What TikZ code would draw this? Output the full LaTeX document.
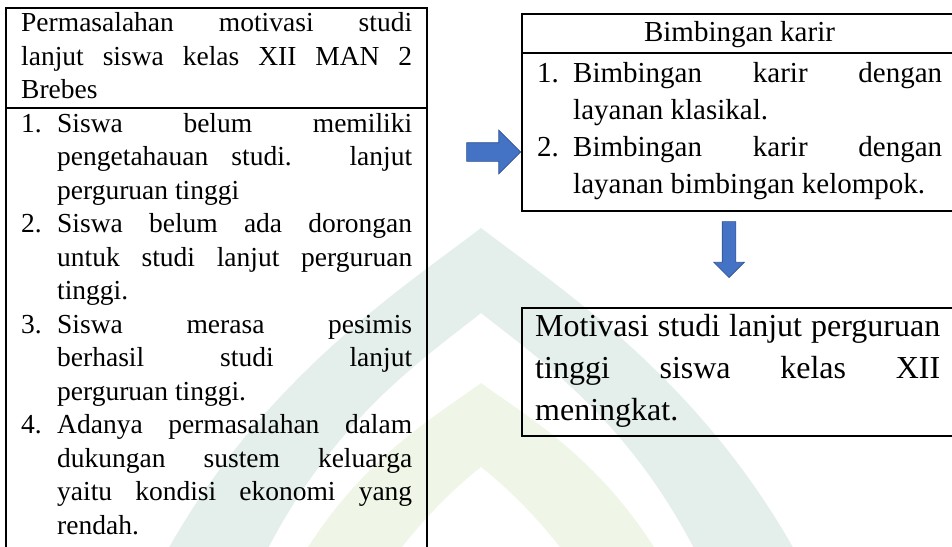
\documentclass[tikz,border=0pt]{standalone}
\usepackage{fontspec}
\setmainfont{Liberation Serif}
\usetikzlibrary{shapes.arrows}
\definecolor{wmteal}{RGB}{228,239,236}
\definecolor{wmgreen}{RGB}{239,246,231}
\definecolor{arrfill}{RGB}{68,114,196}
\definecolor{arredge}{RGB}{47,82,143}
\newlength\myind
\newcommand\myjl[1]{\makebox[\linewidth][s]{#1}}
\newcommand\myif[2]{\makebox[\myind][l]{#1}\makebox[\dimexpr\linewidth-\myind\relax][s]{#2}}
\newcommand\myij[1]{\hspace*{\myind}\makebox[\dimexpr\linewidth-\myind\relax][s]{#1}}
\newcommand\myil[1]{\hspace*{\myind}#1}
\newcommand\fontL{\fontsize{27.5}{33.5}\selectfont}
\newcommand\fontR{\fontsize{29}{37}\selectfont}
\newcommand\fontM{\fontsize{32}{42}\selectfont}
\begin{document}
\begin{tikzpicture}[x=1pt,y=-1pt,
  frame/.style={draw=black, line width=1.6pt, inner sep=0pt, anchor=north west},
  txt/.style={inner sep=0pt, anchor=base west},
  blockarrow/.style={single arrow, fill=arrfill, draw=arredge, line width=0.6pt,
     inner sep=0pt, single arrow tip angle=90, text width=0pt}]
\useasboundingbox (0,0) rectangle (952,546);
\clip (0,0) rectangle (952,546);
% watermark
\fill[wmteal] (162,560) .. controls (260,380) and (400,290) .. (481,228)
  .. controls (562,290) and (702,380) .. (800,560) -- (700,560)
  .. controls (630,420) and (540,360) .. (481,313)
  .. controls (422,360) and (332,420) .. (262,560) -- cycle;
\fill[wmgreen] (300,560) .. controls (360,460) and (430,420) .. (481,383)
  .. controls (532,420) and (602,460) .. (662,560) -- (570,560)
  .. controls (540,520) and (510,490) .. (481,467)
  .. controls (452,490) and (422,520) .. (392,560) -- cycle;
% frames
\node[frame, minimum width=421pt, minimum height=600pt] (prob) at (5,7) {};
\draw[line width=1.6pt] (prob.west |- 0,108) coordinate (s1) -- (prob.east |- 0,108) coordinate (s2);
\node[frame, minimum width=500pt, minimum height=197pt] (bk) at (521,13) {};
\draw[line width=1.6pt] (bk.west |- 0,53) coordinate (s3) -- (bk.east |- 0,53) coordinate (s4);
\node[frame, minimum width=500pt, minimum height=128pt] (mot) at (521,307) {};
% texts
\node[txt] (probhead) at (21,31.7) {\fontL\parbox[t]{391pt}{%
  \myjl{Permasalahan motivasi studi}\\
  \myjl{lanjut siswa kelas XII MAN 2}\\
  Brebes}};
\node[txt] (problist) at (21,132) {\fontL\setlength\myind{36pt}\parbox[t]{391pt}{%
  \myif{1.}{Siswa belum memiliki}\\
  \myij{pengetahauan studi. lanjut}\\
  \myil{perguruan tinggi}\\
  \myif{2.}{Siswa belum ada dorongan}\\
  \myij{untuk studi lanjut perguruan}\\
  \myil{tinggi.}\\
  \myif{3.}{Siswa merasa pesimis}\\
  \myij{berhasil studi lanjut}\\
  \myil{perguruan tinggi.}\\
  \myif{4.}{Adanya permasalahan dalam}\\
  \myij{dukungan sustem keluarga}\\
  \myij{yaitu kondisi ekonomi yang}\\
  \myil{rendah.}}};
\node[inner sep=0pt, anchor=base] (bkhead) at (739.5,41) {\fontR Bimbingan karir};
\node[txt] (bklist) at (537,82) {\fontR\setlength\myind{36pt}\parbox[t]{405pt}{%
  \myif{1.}{Bimbingan karir dengan}\\
  \myil{layanan klasikal.}\\
  \myif{2.}{Bimbingan karir dengan}\\
  \myil{layanan bimbingan kelompok.}}};
\node[txt] (mottext) at (535,336) {\fontM\parbox[t]{405pt}{%
  \myjl{Motivasi studi lanjut perguruan}\\
  \myjl{tinggi siswa kelas XII}\\
  meningkat.}};
% arrows
\node[blockarrow, minimum height=54pt, text height=9pt, text depth=9pt,
  single arrow head extend=12.5pt, anchor=tip] (a1) at (bk.west |- 0,152) {};
\node[blockarrow, minimum height=56pt, text height=6.5pt, text depth=6.5pt,
  single arrow head extend=8.5pt, rotate=-90, anchor=tip] (a2) at (729,278) {};
\end{tikzpicture}
\end{document}
